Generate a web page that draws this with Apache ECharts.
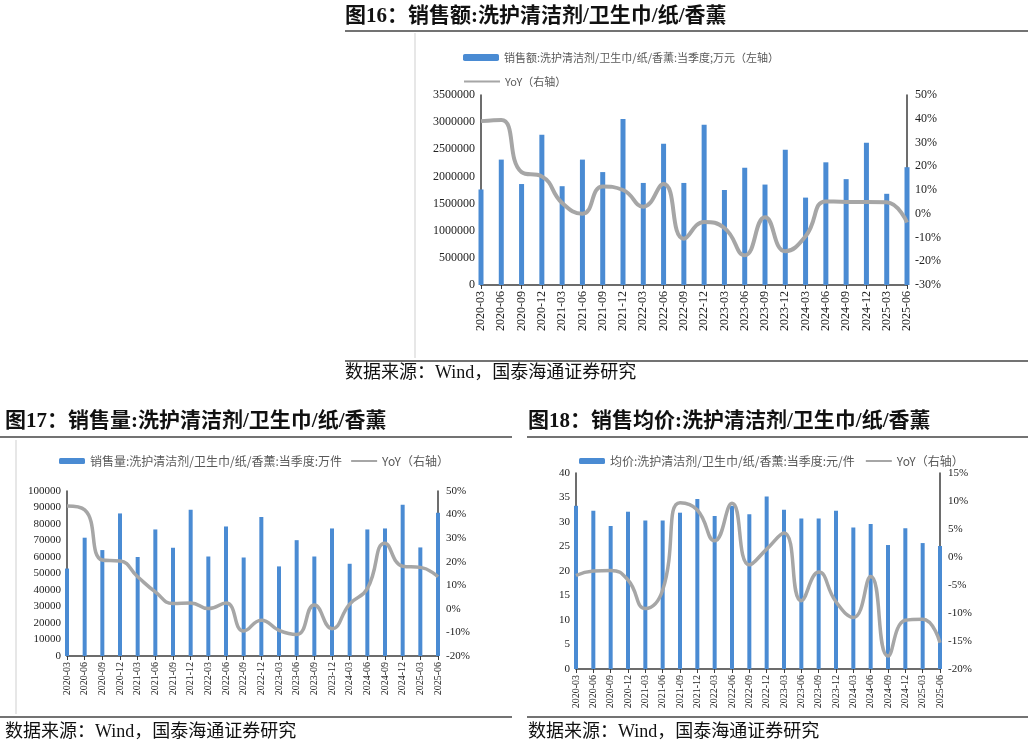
<!DOCTYPE html>
<html>
<head>
<meta charset="utf-8">
<script src="https://cdn.jsdelivr.net/npm/echarts@6/dist/echarts.min.js"></script>
<style>
html,body{margin:0;padding:0;background:#fff;}
#c{width:1032px;height:747px;}
</style>
</head>
<body>
<div id="c"></div>
<script>
// ---------- data ----------
var categories = ['2020-03','2020-06','2020-09','2020-12','2021-03','2021-06','2021-09','2021-12','2022-03','2022-06','2022-09','2022-12','2023-03','2023-06','2023-09','2023-12','2024-03','2024-06','2024-09','2024-12','2025-03','2025-06'];

var salesValue = [1760000,2310000,1860000,2770000,1820000,2310000,2080000,3060000,1880000,2600000,1880000,2950000,1750000,2160000,1850000,2490000,1610000,2260000,1950000,2620000,1680000,2170000];
var salesYoY = [39,39.5,17.5,15.7,4.5,0,11.5,10,3,12.5,-10.5,-3.5,-6,-17.5,-1.5,-15.8,-9.5,5.2,5,5,4.8,-3.7];

var volumeValue = [53000,71700,64200,86400,60000,76700,65600,88700,60300,78500,59700,84200,54300,70200,60300,77300,55900,76700,77300,91700,65800,86800];
var volumeYoY = [43.6,42,20.7,20.3,13.6,7.2,2.3,2.5,0.1,2.5,-9.4,-4.8,-9.1,-10.9,1.6,-8.4,2,8.6,27.8,18.1,17.6,13.6];

var priceValue = [33.3,32.3,29.2,32.1,30.3,30.3,31.9,34.7,31.2,33.3,31.6,35.2,32.5,30.7,30.7,32.3,28.9,29.6,25.3,28.7,25.7,25.1];
var priceYoY = [-3.3,-2.5,-2.4,-4.1,-9.2,-5.9,9.7,8.4,2.9,9.6,-1.4,1.4,4.3,-7.8,-2.7,-8,-10.8,-3.5,-17.7,-11.3,-11.1,-15.3];

var titles = ['图16：销售额:洗护清洁剂/卫生巾/纸/香薰','图17：销售量:洗护清洁剂/卫生巾/纸/香薰','图18：销售均价:洗护清洁剂/卫生巾/纸/香薰'];
var sourceText = '数据来源：Wind，国泰海通证券研究';
var legendNames = ['销售额:洗护清洁剂/卫生巾/纸/香薰:当季度;万元（左轴）','YoY（右轴）',
                   '销售量:洗护清洁剂/卫生巾/纸/香薰:当季度:万件','YoY（右轴） ',
                   '均价:洗护清洁剂/卫生巾/纸/香薰:当季度:元/件','YoY（右轴）  '];

// ---------- styles ----------
var SERIF = "'Liberation Serif','Times New Roman','Noto Sans CJK SC',serif";
var CJK = "'Noto Sans CJK SC','Liberation Serif',sans-serif";
var BAR = '#4a8bd3';
var LINE = '#a6a6a6';
var AX = '#3c3c3c';

function xAxis(gi, fs){
  return {type:'category',gridIndex:gi,data:categories,boundaryGap:false,
    axisLine:{lineStyle:{color:AX,width:1.5}},
    axisTick:{show:true,length:4,lineStyle:{color:AX,width:1}},
    axisLabel:{rotate:90,interval:0,fontFamily:SERIF,fontSize:fs,color:'#222',margin:6},
    splitLine:{show:false}};
}
function yAxis(gi, pos, min, max, itv, fs, pct){
  return {type:'value',gridIndex:gi,position:pos,min:min,max:max,interval:itv,
    axisLine:{show:true,lineStyle:{color:AX,width:1.5}},
    axisTick:{show:false},splitLine:{show:false},
    axisLabel:{fontFamily:SERIF,fontSize:fs,color:'#222',margin:pos==='left'?6:8,
      formatter:function(v){return pct ? (v + '%') : String(v);}}};
}
function hline(x1,x2,y,w,c){return {type:'line',shape:{x1:x1,y1:y,x2:x2,y2:y},style:{stroke:c||'#444',lineWidth:w||1.5},silent:true};}
function vline(x,y1,y2){return {type:'line',shape:{x1:x,y1:y1,x2:x,y2:y2},style:{stroke:'#cfcfcf',lineWidth:1},silent:true};}
function txt(x,y,t,fs,bold){return {type:'text',left:x,top:y,style:{text:t,font:(bold?'bold ':'')+fs+'px '+SERIF,fill:'#111'},silent:true};}
var hideSym = {opacity:0};

var chart = echarts.init(document.getElementById('c'));
var option = {
  animation:false,
  backgroundColor:'#fff',
  grid:[
    {left:481,top:95,width:426,height:190,containLabel:false},
    {left:67,top:491,width:371,height:165,containLabel:false},
    {left:576,top:473,width:364,height:196,containLabel:false}
  ],
  legend:[
    {data:[legendNames[0]],left:458,top:47,itemWidth:36,itemHeight:7,itemGap:10,
      textStyle:{fontFamily:CJK,fontSize:11,color:'#595959'}},
    {data:[{name:legendNames[1],itemStyle:hideSym}],left:458,top:71,itemWidth:36,itemHeight:7,
      textStyle:{fontFamily:CJK,fontSize:11,color:'#595959'}},
    {data:[legendNames[2],{name:legendNames[3],itemStyle:hideSym}],left:54,top:450,itemWidth:26,itemHeight:6,itemGap:8,
      textStyle:{fontFamily:CJK,fontSize:12,color:'#595959'}},
    {data:[legendNames[4],{name:legendNames[5],itemStyle:hideSym}],left:574,top:450,itemWidth:26,itemHeight:6,itemGap:10,
      textStyle:{fontFamily:CJK,fontSize:12,color:'#595959'}}
  ],
  xAxis:[xAxis(0,12),xAxis(1,10),xAxis(2,10)],
  yAxis:[
    yAxis(0,'left',0,3500000,500000,12,false),
    yAxis(0,'right',-30,50,10,12,true),
    yAxis(1,'left',0,100000,10000,11,false),
    yAxis(1,'right',-20,50,10,11,true),
    yAxis(2,'left',0,40,5,11,false),
    yAxis(2,'right',-20,15,5,11,true)
  ],
  series:[
    {name:legendNames[0],type:'bar',xAxisIndex:0,yAxisIndex:0,data:salesValue,barWidth:5,clip:true,itemStyle:{color:BAR}},
    {name:legendNames[1],type:'line',xAxisIndex:0,yAxisIndex:1,data:salesYoY,smooth:0.5,symbol:'none',lineStyle:{color:LINE,width:4},itemStyle:{color:LINE}},
    {name:legendNames[2],type:'bar',xAxisIndex:1,yAxisIndex:2,data:volumeValue,barWidth:4,clip:true,itemStyle:{color:BAR}},
    {name:legendNames[3],type:'line',xAxisIndex:1,yAxisIndex:3,data:volumeYoY,smooth:0.5,symbol:'none',lineStyle:{color:LINE,width:3.5},itemStyle:{color:LINE}},
    {name:legendNames[4],type:'bar',xAxisIndex:2,yAxisIndex:4,data:priceValue,barWidth:4,clip:true,itemStyle:{color:BAR}},
    {name:legendNames[5],type:'line',xAxisIndex:2,yAxisIndex:5,data:priceYoY,smooth:0.5,symbol:'none',lineStyle:{color:LINE,width:3.5},itemStyle:{color:LINE}}
  ],
  graphic:[
    txt(345,6,titles[0],21,true),
    hline(345,1028,31,1.5),
    vline(415,33,358),
    hline(345,1028,361,1.5),
    txt(345,364,sourceText,18,false),

    txt(5,411,titles[1],21,true),
    hline(0,512,437,1.5),
    vline(16,440,714),
    hline(0,512,717,1.5),
    txt(5,723,sourceText,18,false),

    txt(528,411,titles[2],21,true),
    hline(527,1028,437,1.5),
    hline(527,1028,717,1.5),
    txt(528,723,sourceText,18,false)
  ]
};
chart.setOption(option);
</script>
</body>
</html>
